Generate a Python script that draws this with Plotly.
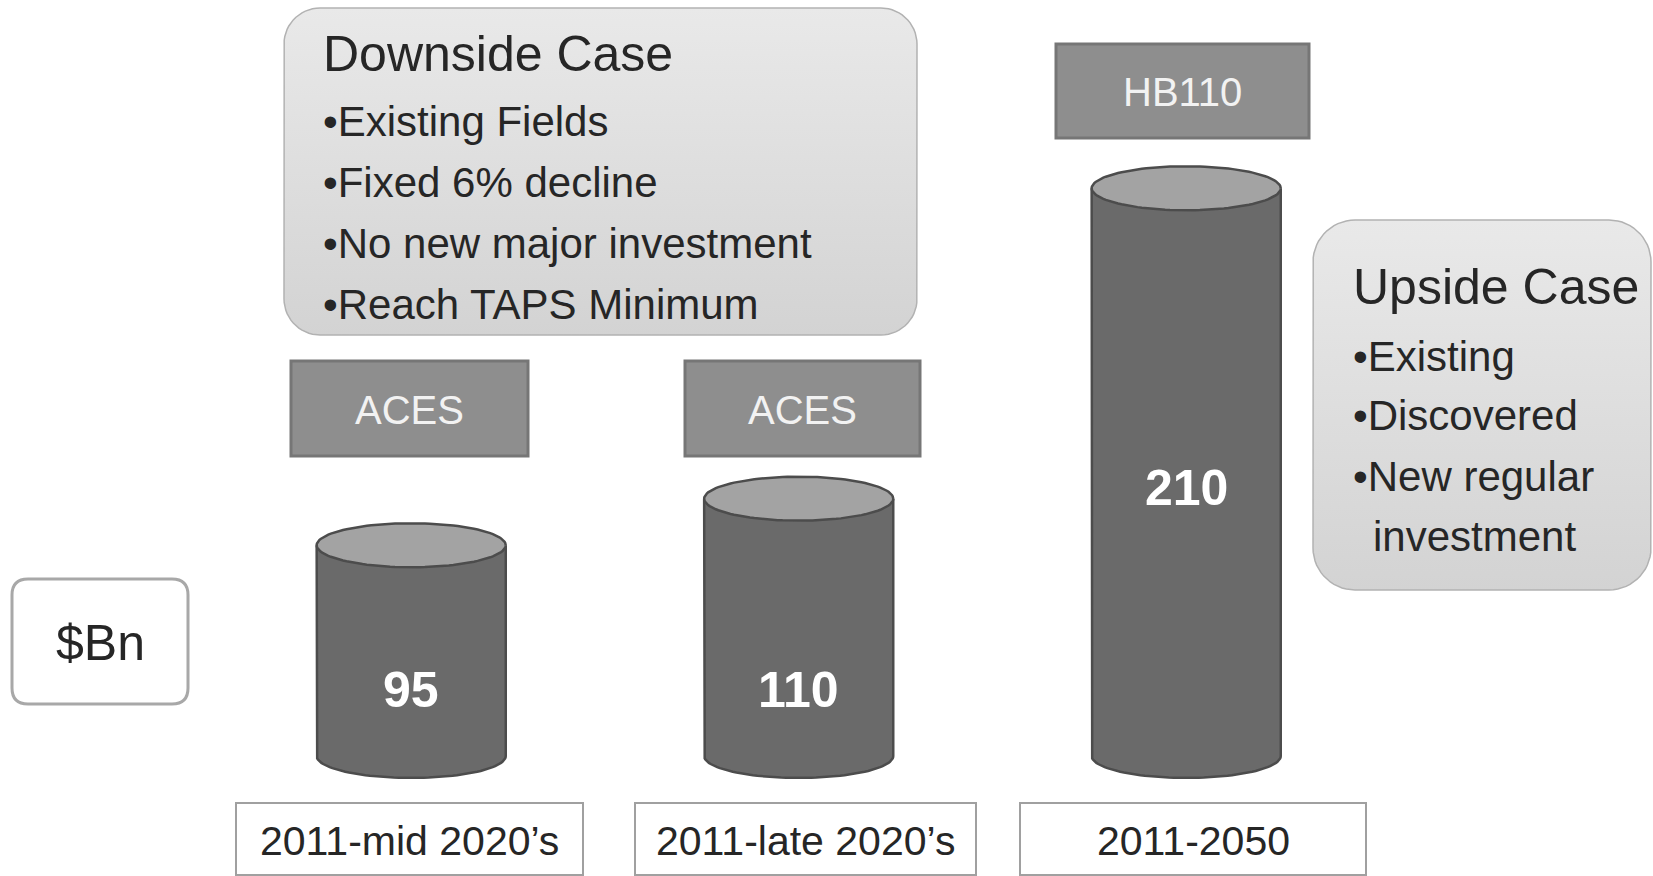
import numpy as np
import plotly.graph_objects as go

# ---------------- data ----------------
periods = ["2011-mid 2020’s", "2011-late 2020’s", "2011-2050"]
values = [95, 110, 210]                      # $Bn
regimes = ["ACES", "ACES", "HB110"]
unit_label = "$Bn"
downside_title = "Downside Case"
downside_points = ["Existing Fields", "Fixed 6% decline", "No new major investment", "Reach TAPS Minimum"]
upside_title = "Upside Case"
upside_points = ["Existing", "Discovered", "New regular", "investment"]

# ---------------- geometry / style ----------------
W, H = 1653, 876
BASE = 27.1          # value level of cylinder floor
PPU = 3.104          # pixels per value unit
BASE_PX = 756        # pixel row of cylinder floor
XC1_PX, XSTEP = 798.7, 387.5
CYL_HALF = 0.244     # half width (category units)
RY = 22 / PPU        # ellipse half-height (value units)

BODY = "#6a6a6a"
EDGE = "#4c4c4c"
TOP = "#a3a3a3"
FONT = "Liberation Sans, Arial, sans-serif"

fig = go.Figure()

xs = list(range(len(values)))
fig.add_trace(go.Bar(x=xs, y=[v - BASE for v in values], base=BASE, width=2 * CYL_HALF,
                     marker=dict(color=BODY, line=dict(width=0)), hoverinfo="skip",
                     showlegend=False))

t_low = np.linspace(np.pi, 2 * np.pi, 60)
t_full = np.linspace(0, 2 * np.pi, 120)
for i, v in zip(xs, values):
    lx = i + CYL_HALF * np.cos(t_low)
    ly = BASE + RY * np.sin(t_low)
    fig.add_trace(go.Scatter(x=np.r_[lx, lx[0]], y=np.r_[ly, ly[0]], mode="lines", fill="toself",
                             fillcolor=BODY, line=dict(width=0, color=BODY), hoverinfo="skip",
                             showlegend=False))
    ox = np.r_[i - CYL_HALF, lx, i + CYL_HALF]
    oy = np.r_[v, ly, v]
    fig.add_trace(go.Scatter(x=ox, y=oy, mode="lines", line=dict(color=EDGE, width=2.5),
                             hoverinfo="skip", showlegend=False))
    fig.add_trace(go.Scatter(x=i + CYL_HALF * np.cos(t_full), y=v + RY * np.sin(t_full),
                             mode="lines", fill="toself", fillcolor=TOP,
                             line=dict(color=EDGE, width=2.5), hoverinfo="skip", showlegend=False))


def rrect(x0, y0, x1, y1, r):
    return (f"M {x0+r},{y0} L {x1-r},{y0} Q {x1},{y0} {x1},{y0+r} L {x1},{y1-r} "
            f"Q {x1},{y1} {x1-r},{y1} L {x0+r},{y1} Q {x0},{y1} {x0},{y1-r} "
            f"L {x0},{y0+r} Q {x0},{y0} {x0+r},{y0} Z")


def rrect_pts(x0, y0, x1, y1, r):
    px, py = [], []
    corners = [(x1 - r, y0 + r, -np.pi / 2, 0), (x1 - r, y1 - r, 0, np.pi / 2),
               (x0 + r, y1 - r, np.pi / 2, np.pi), (x0 + r, y0 + r, np.pi, 1.5 * np.pi)]
    for cx, cy, a0, a1 in corners:
        a = np.linspace(a0, a1, 16)
        px.extend(cx + r * np.cos(a))
        py.extend(cy + r * np.sin(a))
    px.append(px[0])
    py.append(py[0])
    return px, py


shapes = []
annotations = []


def box(x0, y0, x1, y1, fill, line, lw, r=0):
    if r:
        shapes.append(dict(type="path", path=rrect(x0, y0, x1, y1, r), xref="x2", yref="y2",
                           fillcolor=fill, line=dict(color=line, width=lw), layer="above"))
    else:
        shapes.append(dict(type="rect", x0=x0, y0=y0, x1=x1, y1=y1, xref="x2", yref="y2",
                           fillcolor=fill, line=dict(color=line, width=lw), layer="above"))


def grad_box(x0, y0, x1, y1, r):
    px, py = rrect_pts(x0, y0, x1, y1, r)
    fig.add_trace(go.Scatter(x=px, y=py, xaxis="x2", yaxis="y2", mode="lines", fill="toself",
                             line=dict(color="#b2b2b2", width=1.5),
                             fillgradient=dict(type="vertical", start=y0, stop=y1,
                                               colorscale=[[0, "#e9e9e9"], [1, "#d3d3d3"]]),
                             hoverinfo="skip", showlegend=False))


def text(x, y, s, size, color="#262626", xanchor="center"):
    annotations.append(dict(x=x, y=y, xref="x2", yref="y2", text=s, showarrow=False,
                            xanchor=xanchor, yanchor="middle",
                            font=dict(size=size, color=color, family=FONT)))


# Downside case box
grad_box(284, 8, 917, 335, 36)
text(321, 54, downside_title, 50, xanchor="left")
for k, p in enumerate(downside_points):
    text(321, 121 + k * 61, "•" + p, 42, xanchor="left")

# Upside case box
grad_box(1313, 220, 1651, 590, 42)
text(1351, 287, upside_title, 50, xanchor="left")
up_base = [356, 415, 476, 536]
for k, p in enumerate(upside_points):
    if k < 3:
        text(1351, up_base[k], "•" + p, 42, xanchor="left")
    else:
        text(1371, up_base[k], p, 42, xanchor="left")

# unit box
box(12, 579, 188, 704, "#ffffff", "#a8a8a8", 3, r=16)
text(100, 643, unit_label, 50)

# regime boxes
reg_boxes = [(291, 361, 528, 456), (685, 361, 920, 456), (1056, 44, 1309, 138)]
for (x0, y0, x1, y1), lab in zip(reg_boxes, regimes):
    box(x0, y0, x1, y1, "#8e8e8e", "#767676", 3)
    text((x0 + x1) / 2, (y0 + y1) / 2 + 1, lab, 40, color="#f2f2f2")

# period boxes
per_boxes = [(236, 803, 583, 875), (635, 803, 976, 875), (1020, 803, 1366, 875)]
for (x0, y0, x1, y1), lab in zip(per_boxes, periods):
    box(x0, y0, x1, y1, "#ffffff", "#a0a0a0", 2)
    text((x0 + x1) / 2, (y0 + y1) / 2 + 2, lab, 41)

# value labels
label_y = [690, 690, 488]
for i, v, ly in zip(xs, values, label_y):
    annotations.append(dict(x=i, y=ly, xref="x", yref="y2", text=f"<b>{v}</b>", showarrow=False,
                            xanchor="center", yanchor="middle",
                            font=dict(size=50, color="#ffffff", family=FONT)))

fig.update_layout(
    width=W, height=H, margin=dict(l=0, r=0, t=0, b=0),
    paper_bgcolor="#ffffff", plot_bgcolor="rgba(0,0,0,0)",
    showlegend=False, barmode="overlay",
    xaxis=dict(range=[1 - XC1_PX / XSTEP, 1 + (W - XC1_PX) / XSTEP], visible=False, domain=[0, 1]),
    yaxis=dict(range=[BASE - (H - BASE_PX) / PPU, BASE + BASE_PX / PPU], visible=False, domain=[0, 1]),
    xaxis2=dict(range=[0, W], visible=False, overlaying="x", domain=[0, 1]),
    yaxis2=dict(range=[H, 0], visible=False, overlaying="y", domain=[0, 1]),
    shapes=shapes, annotations=annotations,
)

fig.write_html("out.html", config={"displayModeBar": False},
               post_script="document.body.style.margin='0px';document.body.style.overflow='hidden';")
